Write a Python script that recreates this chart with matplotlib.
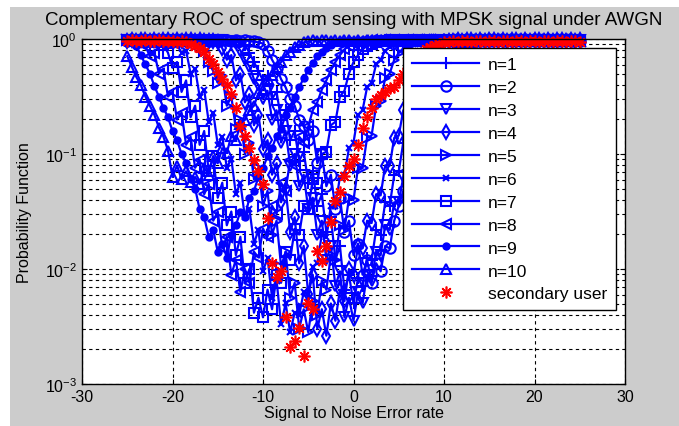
import matplotlib.pyplot as plt
import numpy as np
from matplotlib.patches import Rectangle

plt.rcParams['font.family'] = ['Liberation Sans', 'DejaVu Sans']
plt.rcParams['axes.unicode_minus'] = False

# SNR grid, 0.5 dB steps
snr = np.linspace(-25, 25, 101)

# log10 of the probability (one list per n)
n1 = [-0.01, -0.02, -0.01, -0.01, -0.02, -0.01, -0.02, -0.01, -0.01, -0.02,
      -0.01, -0.02, -0.01, -0.01, -0.02, -0.01, -0.02, -0.01, -0.01, -0.02,
      -0.01, -0.02, -0.01, -0.02, -0.02, -0.03, -0.05, -0.12, -0.20, -0.28,
      -0.36, -0.32, -0.52, -0.46, -0.70, -0.62, -0.88, -0.80, -1.06, -0.98,
      -1.25, -1.15, -1.45, -1.35, -1.68, -1.55, -1.92, -1.80, -2.18, -2.05,
      -2.30, -2.08, -2.15, -1.90, -1.92, -1.66, -1.70, -1.42, -1.45, -1.18,
      -1.15, -0.90, -0.88, -0.64, -0.60, -0.40, -0.36, -0.20, -0.16, -0.08,
      -0.05, -0.03, -0.02, -0.02, -0.01, -0.02, -0.01, -0.01, -0.02, -0.01,
      -0.01, -0.02, -0.01, -0.01, -0.02, -0.01, -0.02, -0.01, -0.01, -0.02,
      -0.01, -0.02, -0.01, -0.01, -0.02, -0.01, -0.02, -0.01, -0.01, -0.02,
      -0.01]
n2 = [-0.02, -0.01, -0.01, -0.02, -0.01, -0.02, -0.01, -0.01, -0.02, -0.01,
      -0.02, -0.01, -0.01, -0.02, -0.01, -0.02, -0.01, -0.01, -0.02, -0.01,
      -0.02, -0.01, -0.01, -0.02, -0.01, -0.02, -0.01, -0.02, -0.02, -0.03,
      -0.04, -0.10, -0.18, -0.25, -0.35, -0.42, -0.52, -0.58, -0.70, -0.76,
      -0.88, -0.80, -1.08, -1.00, -1.28, -1.18, -1.48, -1.38, -1.68, -1.58,
      -1.88, -1.78, -2.05, -1.92, -2.12, -1.95, -2.02, -1.80, -1.82, -1.58,
      -1.45, -1.32, -1.18, -1.05, -0.92, -0.80, -0.68, -0.56, -0.45, -0.36,
      -0.28, -0.20, -0.14, -0.10, -0.07, -0.05, -0.03, -0.02, -0.02, -0.01,
      -0.02, -0.01, -0.01, -0.02, -0.01, -0.02, -0.01, -0.01, -0.02, -0.01,
      -0.02, -0.01, -0.01, -0.02, -0.01, -0.02, -0.01, -0.01, -0.02, -0.01,
      -0.02]
n3 = [-0.01, -0.01, -0.02, -0.01, -0.02, -0.01, -0.01, -0.02, -0.01, -0.02,
      -0.01, -0.01, -0.02, -0.01, -0.02, -0.01, -0.01, -0.02, -0.01, -0.02,
      -0.01, -0.01, -0.02, -0.03, -0.04, -0.10, -0.18, -0.24, -0.35, -0.40,
      -0.52, -0.45, -0.70, -0.62, -0.90, -0.80, -1.10, -1.00, -1.28, -1.18,
      -1.48, -1.38, -1.70, -1.58, -1.92, -1.80, -2.15, -2.02, -2.42, -2.25,
      -2.45, -2.20, -2.30, -2.05, -2.10, -1.85, -1.88, -1.62, -1.66, -1.42,
      -1.42, -1.20, -1.18, -0.98, -0.95, -0.76, -0.72, -0.56, -0.52, -0.38,
      -0.30, -0.22, -0.16, -0.11, -0.08, -0.05, -0.04, -0.03, -0.02, -0.02,
      -0.01, -0.01, -0.02, -0.01, -0.02, -0.01, -0.01, -0.02, -0.01, -0.02,
      -0.01, -0.01, -0.02, -0.01, -0.02, -0.01, -0.01, -0.02, -0.01, -0.02,
      -0.01]
n4 = [-0.02, -0.01, -0.02, -0.01, -0.01, -0.02, -0.01, -0.02, -0.01, -0.01,
      -0.02, -0.01, -0.02, -0.01, -0.01, -0.02, -0.01, -0.02, -0.02, -0.02,
      -0.03, -0.08, -0.18, -0.14, -0.36, -0.30, -0.55, -0.48, -0.75, -0.66,
      -0.96, -0.88, -1.18, -1.08, -1.42, -1.30, -1.68, -1.55, -1.95, -1.80,
      -2.22, -2.05, -2.52, -2.35, -2.58, -2.30, -2.45, -2.18, -2.28, -2.00,
      -2.05, -1.80, -1.82, -1.58, -1.60, -1.35, -1.36, -1.10, -1.10, -0.86,
      -0.84, -0.62, -0.58, -0.40, -0.36, -0.22, -0.18, -0.10, -0.07, -0.04,
      -0.03, -0.02, -0.02, -0.01, -0.02, -0.01, -0.01, -0.02, -0.01, -0.02,
      -0.01, -0.01, -0.02, -0.01, -0.02, -0.01, -0.01, -0.02, -0.01, -0.02,
      -0.01, -0.01, -0.02, -0.01, -0.02, -0.01, -0.01, -0.02, -0.01, -0.02,
      -0.01]
n5 = [-0.01, -0.02, -0.01, -0.01, -0.02, -0.01, -0.02, -0.01, -0.01, -0.02,
      -0.01, -0.02, -0.01, -0.01, -0.02, -0.03, -0.04, -0.10, -0.20, -0.28,
      -0.38, -0.32, -0.58, -0.50, -0.78, -0.70, -1.00, -0.90, -1.22, -1.12,
      -1.45, -1.32, -1.70, -1.58, -1.98, -1.85, -2.25, -2.12, -2.52, -2.35,
      -2.55, -2.28, -2.40, -2.10, -2.18, -1.88, -1.92, -1.62, -1.66, -1.38,
      -1.40, -1.12, -1.12, -0.86, -0.84, -0.58, -0.54, -0.34, -0.30, -0.18,
      -0.12, -0.08, -0.05, -0.04, -0.03, -0.02, -0.02, -0.01, -0.01, -0.01,
      -0.02, -0.01, -0.02, -0.01, -0.01, -0.02, -0.01, -0.02, -0.01, -0.01,
      -0.02, -0.01, -0.02, -0.01, -0.01, -0.02, -0.01, -0.02, -0.01, -0.01,
      -0.02, -0.01, -0.02, -0.01, -0.01, -0.02, -0.01, -0.02, -0.01, -0.01,
      -0.02]
n6 = [-0.01, -0.01, -0.02, -0.01, -0.02, -0.02, -0.01, -0.02, -0.03, -0.02,
      -0.03, -0.05, -0.12, -0.10, -0.30, -0.26, -0.50, -0.44, -0.72, -0.64,
      -0.92, -0.85, -1.12, -1.04, -1.35, -1.25, -1.55, -1.48, -1.78, -1.66,
      -2.02, -1.90, -2.25, -2.10, -2.48, -2.30, -2.55, -2.38, -2.40, -2.20,
      -2.22, -1.98, -1.95, -1.70, -1.72, -1.45, -1.45, -1.20, -1.18, -0.95,
      -0.90, -0.66, -0.62, -0.42, -0.38, -0.22, -0.18, -0.10, -0.07, -0.05,
      -0.03, -0.02, -0.02, -0.01, -0.02, -0.01, -0.01, -0.02, -0.01, -0.02,
      -0.01, -0.01, -0.02, -0.01, -0.02, -0.01, -0.01, -0.02, -0.01, -0.02,
      -0.01, -0.01, -0.02, -0.01, -0.02, -0.01, -0.01, -0.02, -0.01, -0.02,
      -0.01, -0.01, -0.02, -0.01, -0.02, -0.01, -0.01, -0.02, -0.01, -0.02,
      -0.01]
n7 = [-0.01, -0.02, -0.01, -0.02, -0.02, -0.03, -0.02, -0.03, -0.05, -0.12,
      -0.25, -0.20, -0.46, -0.36, -0.68, -0.58, -0.92, -0.80, -1.15, -1.02,
      -1.38, -1.25, -1.62, -1.50, -1.88, -1.72, -2.12, -2.00, -2.38, -2.25,
      -2.42, -2.18, -2.35, -2.05, -2.12, -1.85, -1.92, -1.65, -1.70, -1.45,
      -1.48, -1.22, -1.25, -1.00, -0.98, -0.75, -0.72, -0.50, -0.45, -0.30,
      -0.20, -0.14, -0.09, -0.06, -0.04, -0.03, -0.02, -0.02, -0.01, -0.01,
      -0.02, -0.01, -0.02, -0.01, -0.01, -0.02, -0.01, -0.02, -0.01, -0.01,
      -0.02, -0.01, -0.02, -0.01, -0.01, -0.02, -0.01, -0.02, -0.01, -0.01,
      -0.02, -0.01, -0.02, -0.01, -0.01, -0.02, -0.01, -0.02, -0.01, -0.01,
      -0.02, -0.01, -0.02, -0.01, -0.01, -0.02, -0.01, -0.02, -0.01, -0.01,
      -0.02]
n8 = [-0.01, -0.02, -0.02, -0.03, -0.06, -0.15, -0.12, -0.30, -0.26, -0.50,
      -0.46, -0.70, -0.64, -0.92, -0.85, -1.12, -1.05, -1.35, -1.26, -1.58,
      -1.50, -1.82, -1.72, -2.05, -1.92, -2.20, -2.00, -2.12, -1.85, -1.90,
      -1.65, -1.72, -1.45, -1.52, -1.25, -1.32, -1.05, -1.10, -0.85, -0.90,
      -0.76, -0.62, -0.55, -0.44, -0.36, -0.27, -0.20, -0.14, -0.09, -0.06,
      -0.04, -0.03, -0.02, -0.02, -0.01, -0.02, -0.01, -0.01, -0.02, -0.01,
      -0.02, -0.01, -0.01, -0.02, -0.01, -0.02, -0.01, -0.01, -0.02, -0.01,
      -0.02, -0.01, -0.01, -0.02, -0.01, -0.02, -0.01, -0.01, -0.02, -0.01,
      -0.02, -0.01, -0.01, -0.02, -0.01, -0.02, -0.01, -0.01, -0.02, -0.01,
      -0.02, -0.01, -0.01, -0.02, -0.01, -0.02, -0.01, -0.01, -0.02, -0.01,
      -0.02]
n9 = [-0.02, -0.03, -0.06, -0.14, -0.22, -0.30, -0.41, -0.50, -0.60, -0.68,
      -0.80, -0.88, -1.00, -1.08, -1.22, -1.30, -1.48, -1.55, -1.72, -1.66,
      -1.85, -1.78, -1.90, -1.70, -1.62, -1.50, -1.55, -1.38, -1.32, -1.20,
      -1.12, -1.02, -0.95, -0.84, -0.78, -0.66, -0.60, -0.50, -0.42, -0.34,
      -0.27, -0.21, -0.15, -0.11, -0.08, -0.05, -0.03, -0.02, -0.02, -0.01,
      -0.02, -0.01, -0.01, -0.02, -0.01, -0.02, -0.01, -0.01, -0.02, -0.01,
      -0.02, -0.01, -0.01, -0.02, -0.01, -0.02, -0.01, -0.01, -0.02, -0.01,
      -0.02, -0.01, -0.01, -0.02, -0.01, -0.02, -0.01, -0.01, -0.02, -0.01,
      -0.02, -0.01, -0.01, -0.02, -0.01, -0.02, -0.01, -0.01, -0.02, -0.01,
      -0.02, -0.01, -0.01, -0.02, -0.01, -0.02, -0.01, -0.01, -0.02, -0.01,
      -0.02]
n10 = [-0.15, -0.24, -0.33, -0.40, -0.50, -0.58, -0.66, -0.77, -0.85, -0.97,
       -1.20, -1.10, -1.22, -1.15, -1.24, -1.20, -1.26, -1.12, -1.18, -1.02,
       -1.08, -0.95, -0.99, -0.84, -0.88, -0.74, -0.70, -0.62, -0.58, -0.47,
       -0.44, -0.35, -0.31, -0.24, -0.20, -0.14, -0.11, -0.07, -0.05, -0.03,
       -0.02, -0.01, -0.02, -0.01, -0.01, -0.02, -0.01, -0.02, -0.01, -0.01,
       -0.02, -0.01, -0.02, -0.01, -0.01, -0.02, -0.01, -0.02, -0.01, -0.01,
       -0.02, -0.01, -0.02, -0.01, -0.01, -0.02, -0.01, -0.02, -0.01, -0.01,
       -0.02, -0.01, -0.02, -0.01, -0.01, -0.02, -0.01, -0.02, -0.01, -0.01,
       -0.02, -0.01, -0.02, -0.01, -0.01, -0.02, -0.01, -0.02, -0.01, -0.01,
       -0.02, -0.01, -0.02, -0.01, -0.01, -0.02, -0.01, -0.02, -0.01, -0.01,
       -0.02]
# secondary user
su = [-0.02, -0.01, -0.02, -0.02, -0.01, -0.02, -0.02, -0.01, -0.02, -0.02,
      -0.02, -0.03, -0.02, -0.03, -0.04, -0.06, -0.08, -0.11, -0.17, -0.22,
      -0.29, -0.35, -0.40, -0.48, -0.60, -0.76, -0.84, -0.95, -1.05, -1.15,
      -1.26, -1.56, -1.95, -2.07, -2.02, -2.42, -2.68, -2.63, -2.51, -2.76,
      -2.30, -2.35, -1.84, -1.93, -1.80, -1.59, -1.41, -1.33, -1.19, -1.10,
      -1.04, -0.92, -0.77, -0.68, -0.60, -0.52, -0.49, -0.46, -0.43, -0.42,
      -0.36, -0.30, -0.25, -0.20, -0.16, -0.12, -0.09, -0.07, -0.05, -0.04,
      -0.03, -0.03, -0.02, -0.03, -0.02, -0.02, -0.03, -0.02, -0.02, -0.03,
      -0.02, -0.02, -0.03, -0.02, -0.02, -0.03, -0.02, -0.02, -0.03, -0.02,
      -0.02, -0.03, -0.02, -0.02, -0.03, -0.02, -0.02, -0.03, -0.02, -0.02,
      -0.03]

curves = [n1, n2, n3, n4, n5, n6, n7, n8, n9, n10]
labels = ['n=%d' % (k + 1) for k in range(10)]
markers = ['+', 'o', 'v', 'd', '>', 'x', 's', '<', '.', '^']
msizes = [9, 7.5, 7.5, 7.5, 7.5, 4, 7.5, 7.5, 9, 7.5]

W, H = 679, 427
fig = plt.figure(figsize=(W / 100, H / 100), dpi=100, facecolor='white')
# grey matlab figure area
fig.patches.append(Rectangle((10 / W, 0), 1 - 10 / W, 1 - 8 / H, transform=fig.transFigure,
                             facecolor='#cccccc', edgecolor='none', zorder=-10))

ax = fig.add_axes([82 / W, 42 / H, 543 / W, 345 / H])
ax.set_facecolor('white')

for vals, lab, mk, ms in zip(curves, labels, markers, msizes):
    ax.semilogy(snr, 10 ** np.array(vals), color='blue', lw=1.6, marker=mk, ms=ms,
                mew=1.5, mfc='none' if mk != '.' else 'blue', label=lab, clip_on=False)
# matlab style asterisk
ax.semilogy(snr, 10 ** np.array(su), ls='none', marker=(8, 2, 0), color='red', ms=8.5, mew=1.2,
            label='secondary user', clip_on=False)

ax.set_xlim(-30, 30)
ax.set_ylim(1e-3, 1)
ax.set_xticks([-30, -20, -10, 0, 10, 20, 30])
ax.grid(True, which='major', color='black', ls=(0, (3, 3)), lw=0.8)
ax.grid(True, which='minor', axis='y', color='black', ls=(0, (3, 3)), lw=0.8)
ax.tick_params(which='both', direction='in', top=True, right=True, labelsize=11.5)
for s in ax.spines.values():
    s.set_linewidth(1)

ax.set_title('Complementary ROC of spectrum sensing with MPSK signal under AWGN', fontsize=13.5, pad=11)
ax.set_xlabel('Signal to Noise Error rate', fontsize=11.5, labelpad=1)
ax.set_ylabel('Probability Function', fontsize=11.5, labelpad=9)

leg = ax.legend(loc='upper right', bbox_to_anchor=(616 / W, (H - 49) / H),
                bbox_transform=fig.transFigure, fontsize=12.5, fancybox=False,
                framealpha=1, edgecolor='black', handlelength=3.9, labelspacing=0.45,
                borderpad=0.5, handletextpad=0.5, borderaxespad=0)
leg.get_frame().set_linewidth(1)
leg.set_zorder(5)

fig.savefig('out.png', dpi=100, facecolor=fig.get_facecolor())
